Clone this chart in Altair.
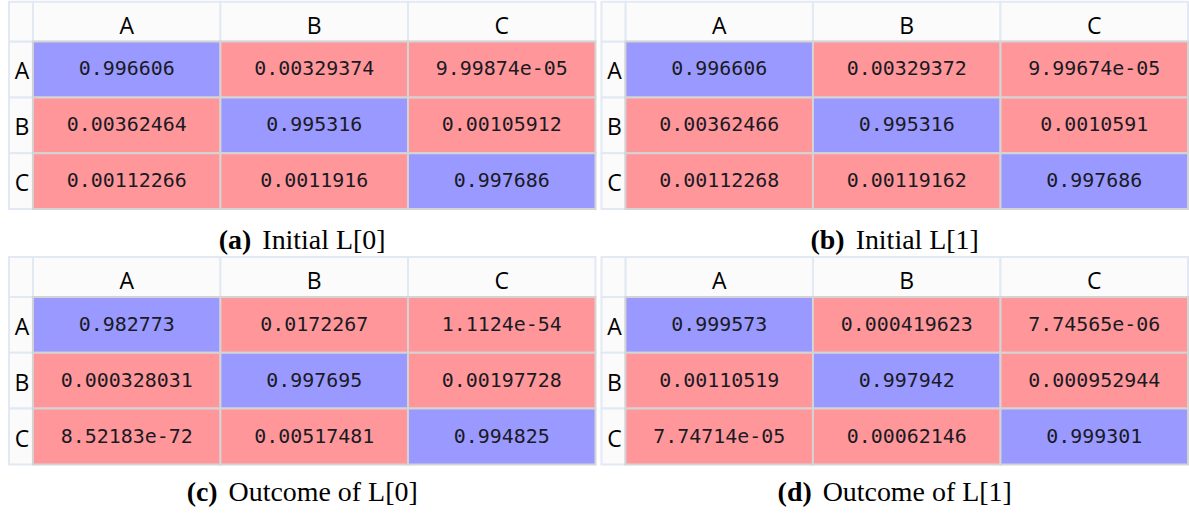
import altair as alt
import pandas as pd

rows = ["A", "B", "C"]
cols = ["A", "B", "C"]

initial_L0 = ["0.996606", "0.00329374", "9.99874e-05",
              "0.00362464", "0.995316", "0.00105912",
              "0.00112266", "0.0011916", "0.997686"]
initial_L1 = ["0.996606", "0.00329372", "9.99674e-05",
              "0.00362466", "0.995316", "0.0010591",
              "0.00112268", "0.00119162", "0.997686"]
outcome_L0 = ["0.982773", "0.0172267", "1.1124e-54",
              "0.000328031", "0.997695", "0.00197728",
              "8.52183e-72", "0.00517481", "0.994825"]
outcome_L1 = ["0.999573", "0.000419623", "7.74565e-06",
              "0.00110519", "0.997942", "0.000952944",
              "7.74714e-05", "0.00062146", "0.999301"]

caption_tags = ["(a)", "(b)", "(c)", "(d)"]
caption_texts = ["Initial L[0]", "Initial L[1]", "Outcome of L[0]", "Outcome of L[1]"]

W = 564
H = 168
HDR_H = 40
LBL_W = 24
BLUE = "#9999ff"
RED = "#ff979a"
GRID = "#d4d4d4"
HDR_FILL = "#fbfbfb"
HDR_STROKE = "#e2e9f5"
CAP_GAP = 11
CAP_SIZE = 28


def text_width(s, bold=False):
    # rough Times-like advance widths (em) used only to centre the caption
    w = {"(": .333, ")": .333, "[": .333, "]": .333, " ": .25, "I": .333, "L": .611,
         "O": .722, "n": .5, "i": .278, "t": .278, "a": .5 if bold else .444, "l": .278,
         "u": .5, "c": .444, "o": .5, "m": .778, "e": .444, "f": .333, "b": .556, "d": .556}
    return sum(w.get(ch, .5) for ch in s) * CAP_SIZE


def panel(cells, tag, text, cap_offset):
    recs = []
    for i, r in enumerate(rows):
        vals = cells[i * 3:(i + 1) * 3]
        nums = [float(v) for v in vals]
        m = max(nums)
        for j, c in enumerate(cols):
            recs.append({"row": r, "col": c, "label": vals[j],
                         "kind": "max" if nums[j] == m else "other"})
    df = pd.DataFrame(recs)

    xs = alt.X("col:N", axis=None,
               scale=alt.Scale(type="band", domain=cols, paddingInner=0, paddingOuter=0))
    ys = alt.Y("row:N", axis=None,
               scale=alt.Scale(type="band", domain=rows, paddingInner=0, paddingOuter=0))

    cells_rect = alt.Chart(df).mark_rect(stroke=GRID, strokeWidth=2).encode(
        x=xs, y=ys,
        color=alt.Color("kind:N", scale=alt.Scale(domain=["max", "other"], range=[BLUE, RED]),
                        legend=None),
    )
    cells_text = alt.Chart(df).mark_text(font="DejaVu Sans Mono", fontSize=20,
                                         color="#1a1a24").encode(
        x=xs, y=ys, text="label:N")

    col_df = pd.DataFrame({"col": cols})
    row_df = pd.DataFrame({"row": rows})
    col_hdr = alt.Chart(col_df).mark_rect(fill=HDR_FILL, stroke=HDR_STROKE, strokeWidth=2).encode(
        x=xs, y=alt.value(-HDR_H), y2=alt.value(0))
    row_hdr = alt.Chart(row_df).mark_rect(fill=HDR_FILL, stroke=HDR_STROKE, strokeWidth=2).encode(
        x=alt.value(-LBL_W), x2=alt.value(0), y=ys)
    corner = alt.Chart(pd.DataFrame({"k": [0]})).mark_rect(
        fill=HDR_FILL, stroke=HDR_STROKE, strokeWidth=2).encode(
        x=alt.value(-LBL_W), x2=alt.value(0), y=alt.value(-HDR_H), y2=alt.value(0))
    col_lbl = alt.Chart(col_df).mark_text(font="Open Sans", fontSize=23, color="#000000").encode(
        x=xs, y=alt.value(-15), text="col:N")
    row_lbl = alt.Chart(row_df).mark_text(font="Open Sans", fontSize=23, color="#000000",
                                          dy=3).encode(
        x=alt.value(-LBL_W / 2 + 1), y=ys, text="row:N")

    tw = text_width(tag, bold=True)
    rw = text_width(text)
    centre = (W - LBL_W) / 2
    start = centre - (tw + CAP_GAP + rw) / 2
    tag_right = start + tw
    text_left = tag_right + CAP_GAP

    cap_tag = alt.Chart(pd.DataFrame({"t": [tag]})).mark_text(
        font="Liberation Serif", fontSize=CAP_SIZE, fontWeight="bold", align="right",
        baseline="alphabetic", color="#000000").encode(
        x=alt.value(tag_right), y=alt.value(H + cap_offset), text="t:N")
    cap_txt = alt.Chart(pd.DataFrame({"t": [text]})).mark_text(
        font="Liberation Serif", fontSize=CAP_SIZE, align="left",
        baseline="alphabetic", color="#000000").encode(
        x=alt.value(text_left), y=alt.value(H + cap_offset), text="t:N")

    return alt.layer(col_hdr, row_hdr, corner, cells_rect, cells_text, col_lbl, row_lbl,
                     cap_tag, cap_txt).properties(width=W, height=H)


pa = panel(initial_L0, caption_tags[0], caption_texts[0], 40)
pb = panel(initial_L1, caption_tags[1], caption_texts[1], 40)
pc = panel(outcome_L0, caption_tags[2], caption_texts[2], 37)
pd_ = panel(outcome_L1, caption_tags[3], caption_texts[3], 37)

top = alt.hconcat(pa, pb, spacing=4)
bottom = alt.hconcat(pc, pd_, spacing=4)
chart = alt.vconcat(top, bottom, spacing=1).properties(
    padding={"left": 8, "top": 0, "right": 0, "bottom": 0},
    background="#ffffff",
).configure_view(stroke=None)

chart.save("out.html", embed_options={"renderer": "svg", "actions": False})
